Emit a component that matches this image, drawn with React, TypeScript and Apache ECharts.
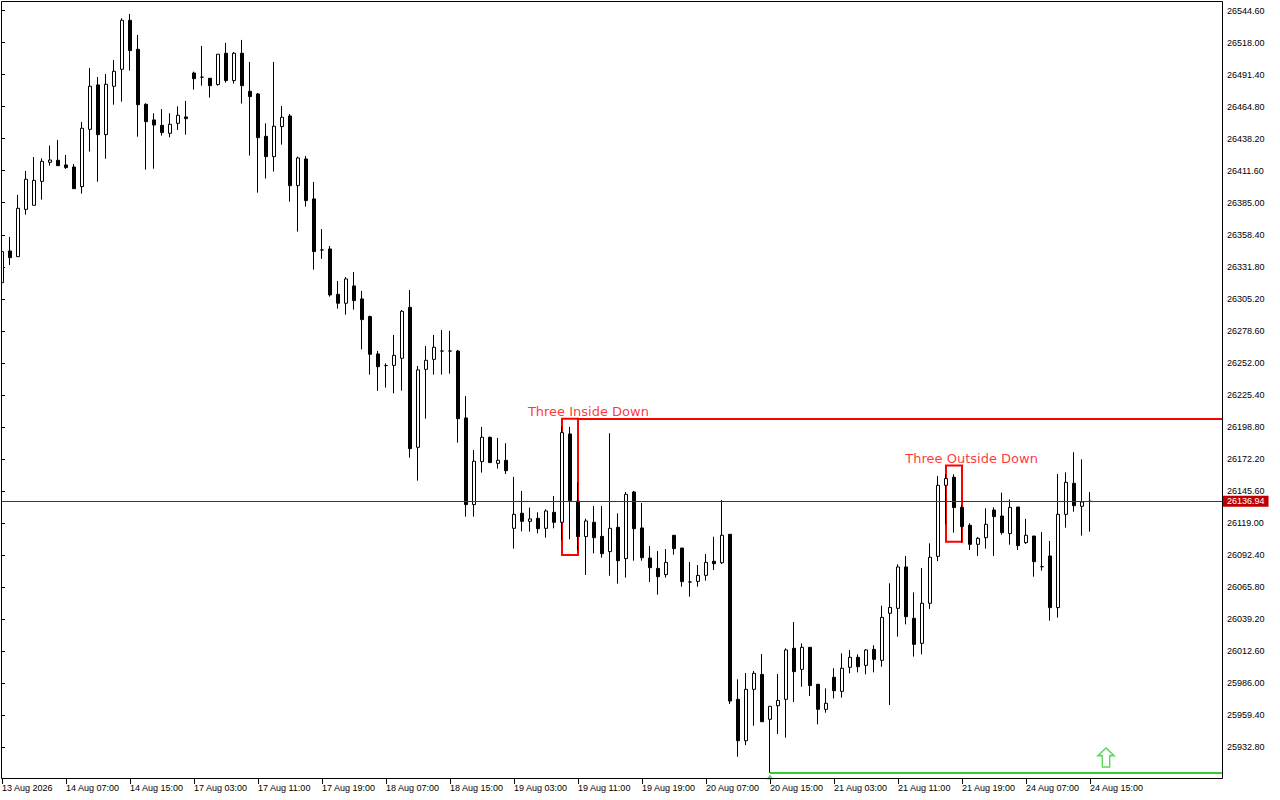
import { useEffect, useRef } from 'react';
import * as echarts from 'echarts';

// x axis labels, one every 8 hourly bars (bar 0, 8, 16, ...)
const tickLabels = [
  '13 Aug 2026', '14 Aug 07:00', '14 Aug 15:00', '17 Aug 03:00', '17 Aug 11:00', '17 Aug 19:00',
  '18 Aug 07:00', '18 Aug 15:00', '19 Aug 03:00', '19 Aug 11:00', '19 Aug 19:00', '20 Aug 07:00',
  '20 Aug 15:00', '21 Aug 03:00', '21 Aug 11:00', '21 Aug 19:00', '24 Aug 07:00', '24 Aug 15:00'
];

// OHLC of every hourly bar
const opens = [
  26318.6, 26344.9, 26340.2, 26379.5, 26382.9, 26402.8, 26418.6, 26420.3, 26416.4, 26414.7,
  26398.4, 26446.0, 26482.9, 26441.6, 26481.8, 26495.9, 26536.6, 26512.5, 26466.8, 26453.8,
  26449.3, 26442.7, 26451.0, 26456.3, 26492.8, 26489.3, 26488.4, 26483.2, 26509.2, 26486.5,
  26509.2, 26477.6, 26475.4, 26440.2, 26423.3, 26448.3, 26457.1, 26399.2, 26421.4, 26388.2,
  26345.8, 26346.6, 26308.9, 26301.5, 26315.9, 26305.1, 26290.4, 26259.4, 26249.7, 26249.9,
  26255.8, 26298.1, 26181.8, 26246.6, 26254.9, 26261.8, 26261.8, 26261.8, 26206.2, 26134.2,
  26169.9, 26190.1, 26168.5, 26171.0, 26114.5, 26127.0, 26120.3, 26122.8, 26114.5, 26127.8,
  26119.5, 26192.9, 26137.0, 26107.6, 26119.5, 26107.8, 26095.1, 26115.3, 26089.3, 26144.7,
  26114.8, 26089.8, 26081.2, 26076.0, 26108.7, 26098.1, 26069.9, 26070.4, 26075.4, 26087.1,
  26085.9, 26109.5, 25972.4, 25938.0, 25980.7, 25993.1, 25955.8, 25967.1, 25972.4, 26014.8,
  25997.3, 26015.6, 25984.9, 25964.1, 25990.7, 25979.0, 25999.0, 26007.3, 26000.6, 26013.9,
  26004.8, 26043.9, 26048.0, 26082.4, 26039.7, 26018.9, 26052.2, 26091.2, 26150.2, 26156.9,
  26131.9, 26117.0, 26101.2, 26106.7, 26129.7, 26124.7, 26110.1, 26132.2, 26102.6, 26108.1,
  26082.6, 26091.5, 26048.6, 26126.1, 26151.9, 26132.8, 26136.9
];
const highs = [
  26345.0, 26356.6, 26391.5, 26411.4, 26423.0, 26421.9, 26432.5, 26437.2, 26424.7, 26417.2,
  26452.1, 26497.0, 26489.5, 26492.0, 26503.6, 26538.3, 26541.9, 26524.4, 26467.6, 26459.3,
  26462.9, 26459.3, 26465.1, 26469.6, 26493.9, 26515.3, 26488.4, 26508.4, 26517.8, 26510.3,
  26520.3, 26502.0, 26476.2, 26451.0, 26502.0, 26465.4, 26458.8, 26423.3, 26423.9, 26402.3,
  26363.2, 26349.1, 26320.0, 26323.3, 26327.5, 26311.7, 26291.2, 26261.8, 26251.6, 26275.1,
  26295.9, 26312.5, 26249.4, 26266.0, 26275.1, 26279.3, 26278.5, 26262.7, 26224.4, 26179.6,
  26198.7, 26190.7, 26189.6, 26185.2, 26157.2, 26145.5, 26131.7, 26127.8, 26130.3, 26141.4,
  26199.0, 26198.7, 26152.7, 26122.5, 26133.0, 26133.0, 26193.4, 26126.9, 26144.7, 26145.5,
  26135.5, 26099.8, 26095.6, 26097.3, 26108.7, 26098.1, 26086.5, 26084.0, 26093.1, 26107.5,
  26138.0, 26109.5, 25989.0, 25994.3, 25995.9, 26010.0, 25966.6, 25993.4, 26014.8, 26036.6,
  26018.9, 26015.6, 25984.9, 25981.5, 25998.2, 26010.6, 26013.4, 26009.8, 26014.2, 26017.3,
  26050.2, 26068.8, 26084.6, 26091.5, 26061.3, 26081.5, 26102.0, 26158.0, 26159.4, 26159.4,
  26133.9, 26118.6, 26107.3, 26131.1, 26131.9, 26144.1, 26138.6, 26132.2, 26122.3, 26108.1,
  26111.4, 26104.0, 26159.6, 26161.0, 26177.7, 26171.8, 26144.7
];
const lows = [
  26316.0, 26333.3, 26340.0, 26375.1, 26382.9, 26387.6, 26415.8, 26415.8, 26413.1, 26396.7,
  26392.6, 26427.5, 26402.5, 26421.6, 26466.5, 26469.0, 26494.8, 26439.9, 26412.5, 26413.3,
  26440.8, 26439.4, 26445.5, 26441.6, 26479.0, 26482.3, 26472.4, 26482.3, 26484.8, 26484.0,
  26467.4, 26424.2, 26393.4, 26405.1, 26410.9, 26433.3, 26385.9, 26361.0, 26381.8, 26329.4,
  26338.3, 26307.0, 26297.0, 26292.0, 26296.2, 26263.2, 26242.2, 26228.6, 26231.4, 26226.7,
  26228.9, 26173.2, 26154.1, 26205.6, 26242.2, 26242.2, 26243.0, 26185.7, 26124.2, 26124.2,
  26160.8, 26169.1, 26164.1, 26159.6, 26097.6, 26112.0, 26111.7, 26110.3, 26106.7, 26114.5,
  26104.8, 26105.4, 26096.0, 26075.7, 26093.7, 26090.1, 26075.1, 26068.5, 26073.5, 26087.6,
  26087.6, 26069.9, 26059.4, 26073.5, 26092.6, 26066.0, 26057.7, 26066.0, 26071.0, 26079.8,
  26084.8, 25968.5, 25924.7, 25934.4, 25950.5, 25953.8, 25911.4, 25943.6, 25940.5, 25970.2,
  25982.9, 25975.2, 25951.6, 25961.3, 25973.2, 25973.8, 25994.0, 25994.8, 25993.2, 25994.8,
  25999.5, 25967.7, 26024.5, 26034.7, 26007.9, 26009.8, 26047.5, 26087.3, 26118.1, 26110.9,
  26102.6, 26096.5, 26091.5, 26097.6, 26091.5, 26109.2, 26100.9, 26096.5, 26101.5, 26074.3,
  26079.3, 26037.8, 26040.3, 26115.0, 26128.3, 26108.4, 26111.7
];
const closes = [
  26344.4, 26339.4, 26380.4, 26404.5, 26403.6, 26419.4, 26420.5, 26415.8, 26414.2, 26396.7,
  26446.9, 26481.8, 26441.6, 26483.4, 26494.2, 26536.6, 26511.4, 26466.5, 26452.4, 26449.6,
  26443.3, 26450.2, 26457.7, 26454.9, 26488.1, 26489.3, 26482.3, 26508.4, 26486.5, 26509.2,
  26482.3, 26473.2, 26439.1, 26423.3, 26448.6, 26456.0, 26399.2, 26422.2, 26386.8, 26344.4,
  26345.8, 26308.4, 26301.5, 26321.7, 26303.7, 26287.9, 26259.1, 26248.8, 26249.7, 26258.2,
  26294.8, 26180.7, 26246.1, 26254.1, 26264.9, 26261.8, 26261.8, 26205.6, 26134.2, 26170.2,
  26190.1, 26169.1, 26171.0, 26162.4, 26126.1, 26120.3, 26122.3, 26114.2, 26128.9, 26119.5,
  26194.0, 26137.5, 26107.6, 26120.6, 26106.7, 26093.4, 26114.5, 26087.6, 26142.7, 26114.2,
  26090.1, 26081.8, 26074.3, 26086.2, 26097.6, 26070.2, 26069.9, 26075.4, 26086.2, 26085.1,
  26108.7, 25971.0, 25938.0, 25980.7, 25994.0, 25953.8, 25966.6, 25971.5, 26013.4, 25995.4,
  26015.6, 25983.8, 25964.1, 25969.1, 25979.6, 25998.2, 26007.3, 25999.5, 26013.4, 26005.6,
  26040.5, 26048.8, 26082.4, 26041.1, 26018.1, 26052.2, 26090.4, 26150.2, 26155.8, 26131.7,
  26115.9, 26101.2, 26106.2, 26117.8, 26124.2, 26110.9, 26131.9, 26100.1, 26108.7, 26086.8,
  26082.6, 26048.6, 26126.1, 26152.7, 26133.3, 26136.4, 26136.94
];

const lastPrice = 26136.94;

// candle pattern boxes: first bar, last bar, box top, box bottom, where the caption sits
const patternNames = ['Three Inside Down', 'Three Outside Down'];
const patternFrom = [70, 118];
const patternTo = [72, 120];
const patternTop = [26205.6, 26166.6];
const patternBottom = [26092.4, 26103.4];
const patternLabelX = [73.3, 121.2];

// horizontal levels drawn from a bar to the right edge
const resistanceFrom = 72;
const resistanceLevel = 26205.6;
const supportFrom = 96;
const supportLevel = 25911.4;

// arrow markers [bar, price]
const upArrow = [138, 25924.1];
const smallMarker = [96, 25907.9];

const SLOTS = 153;
const axisFont = 'Liberation Sans, Arial, sans-serif';
const arrowPath = 'path://M8,0 L16,7.5 L11.7,7.5 L11.7,18.5 L4.3,18.5 L4.3,7.5 L0,7.5 Z';

const App = () => {
  const chartRef = useRef<HTMLDivElement>(null);

  useEffect(() => {
    if (!chartRef.current) return;
    const chart = echarts.init(chartRef.current, null, { renderer: 'svg' });

    const categories = Array.from({ length: SLOTS }, (_, i) => String(i));
    const showTick = (i: number) => i % 8 === 0 && i / 8 < tickLabels.length;
    const candles = opens.map((o, i) => [o, closes[i], lows[i], highs[i]]);

    chart.setOption({
      animation: false,
      backgroundColor: '#ffffff',
      grid: { left: -2, right: 58, top: 2, bottom: 21, containLabel: false, outerBoundsMode: 'none' },
      xAxis: [
        {
          type: 'category',
          data: categories,
          boundaryGap: true,
          axisLine: { show: false },
          axisTick: {
            show: true,
            interval: (i: number) => showTick(i),
            alignWithLabel: true,
            length: 5,
            lineStyle: { color: '#000' }
          },
          axisLabel: {
            interval: (i: number) => showTick(i),
            formatter: (v: string) => tickLabels[Number(v) / 8] ?? '',
            align: 'left',
            margin: 4,
            fontFamily: axisFont,
            fontSize: 9,
            color: '#000'
          },
          splitLine: { show: false }
        },
        { type: 'value', min: -0.5, max: SLOTS - 0.5, show: false }
      ],
      yAxis: {
        type: 'value',
        position: 'right',
        min: 25906.2,
        max: 26551.8,
        interval: 26.6,
        axisLine: { show: false },
        axisTick: { show: true, length: 3, lineStyle: { color: '#000' } },
        axisLabel: {
          showMinLabel: false,
          showMaxLabel: false,
          margin: 5,
          fontFamily: axisFont,
          fontSize: 9,
          color: '#000',
          formatter: (v: number) => v.toFixed(2)
        },
        splitLine: { show: false }
      },
      series: [
        {
          type: 'candlestick',
          xAxisIndex: 0,
          yAxisIndex: 0,
          data: candles,
          barWidth: 4,
          itemStyle: {
            color: '#ffffff',
            color0: '#000000',
            borderColor: '#000000',
            borderColor0: '#000000',
            borderColorDoji: '#000000',
            borderWidth: 1
          },
          markLine: {
            silent: true,
            symbol: ['none', 'none'],
            lineStyle: { color: '#c00000', width: 1, type: 'solid' },
            label: {
              show: true,
              position: 'end',
              formatter: lastPrice.toFixed(2),
              backgroundColor: '#c00000',
              color: '#ffffff',
              fontFamily: axisFont,
              fontSize: 9,
              padding: [1, 4, 1, 4],
              distance: 1
            },
            data: [{ yAxis: lastPrice }]
          }
        },
        {
          type: 'scatter',
          xAxisIndex: 1,
          yAxisIndex: 0,
          z: 3,
          symbolSize: 1,
          itemStyle: { color: 'rgba(0,0,0,0)' },
          data: patternNames.map((name, i) => ({ name, value: [patternLabelX[i], patternTop[i]] })),
          label: {
            show: true,
            position: 'top',
            distance: 0,
            formatter: '{b}',
            color: '#ff0000',
            fontFamily: 'DejaVu Sans',
            fontSize: 13
          },
          markArea: {
            silent: true,
            itemStyle: { color: 'rgba(0,0,0,0)', borderColor: '#ff0000', borderWidth: 2 },
            data: patternNames.map((_, i) => [
              { coord: [patternFrom[i], patternTop[i]] },
              { coord: [patternTo[i], patternBottom[i]] }
            ])
          },
          markLine: {
            silent: true,
            symbol: ['none', 'none'],
            label: { show: false },
            data: [
              [
                { coord: [resistanceFrom, resistanceLevel], lineStyle: { color: '#ff0000', width: 2, type: 'solid' } },
                { coord: [SLOTS - 0.5, resistanceLevel] }
              ],
              [
                { coord: [supportFrom, supportLevel], lineStyle: { color: '#32cd32', width: 2, type: 'solid' } },
                { coord: [SLOTS - 0.5, supportLevel] }
              ]
            ]
          }
        },
        {
          type: 'scatter',
          xAxisIndex: 1,
          yAxisIndex: 0,
          z: 4,
          data: [
            {
              value: upArrow,
              symbol: arrowPath,
              symbolSize: [16, 19],
              itemStyle: { color: '#ffffff', borderColor: '#32cd32', borderWidth: 1.5 }
            },
            {
              value: smallMarker,
              symbol: 'triangle',
              symbolSize: [7, 5],
              itemStyle: { color: '#32cd32' }
            }
          ]
        }
      ],
      graphic: [
        {
          type: 'rect',
          silent: true,
          z: 100,
          shape: { x: 0, y: 0, width: 2, height: 779 },
          style: { fill: '#ffffff' }
        },
        {
          type: 'rect',
          silent: true,
          z: 101,
          shape: { x: 1.5, y: 1.5, width: 1221, height: 777 },
          style: { fill: 'none', stroke: '#000000', lineWidth: 1 }
        }
      ]
    });

    return () => {
      chart.dispose();
    };
  }, []);

  return (
    <div
      ref={chartRef}
      style={{ position: 'fixed', left: 0, top: 0, width: '1280px', height: '800px', background: '#fff' }}
    />
  );
};

export default App;
